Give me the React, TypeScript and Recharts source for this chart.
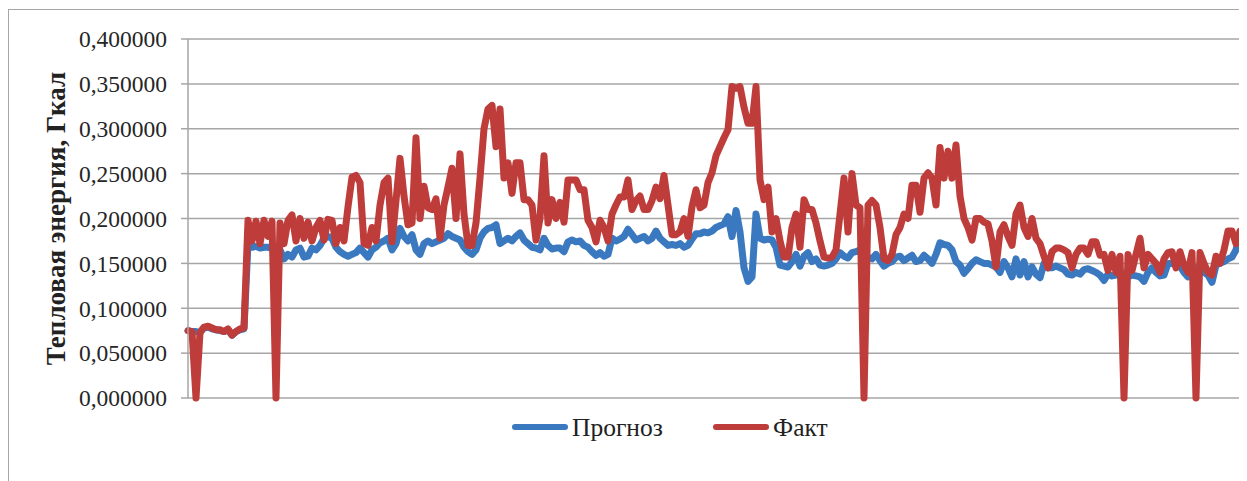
import { CartesianGrid, Legend, Line, LineChart, XAxis, YAxis } from "recharts";

// Прогноз (blue), one value every ~4px of the plot
const forecast = [
  0.075, 0.074, 0.074, 0.073, 0.078, 0.079, 0.077, 0.076, 0.075, 0.074,
  0.076, 0.07, 0.074, 0.076, 0.077, 0.172, 0.168, 0.169, 0.167, 0.168,
  0.168, 0.167, 0.168, 0.165, 0.155, 0.16, 0.157, 0.165, 0.167, 0.157,
  0.158, 0.167, 0.165, 0.17, 0.178, 0.18, 0.178, 0.168, 0.163, 0.16,
  0.158, 0.16, 0.162, 0.167, 0.162, 0.157, 0.165, 0.168, 0.173, 0.175,
  0.178, 0.165, 0.172, 0.189, 0.18, 0.175, 0.182, 0.165, 0.16, 0.172,
  0.175, 0.172, 0.174, 0.176, 0.178, 0.183, 0.18, 0.178, 0.176, 0.168,
  0.163, 0.16, 0.165, 0.178, 0.185, 0.189, 0.19, 0.193, 0.172, 0.175,
  0.178, 0.175, 0.18, 0.184, 0.176, 0.172, 0.168, 0.167, 0.165, 0.178,
  0.17, 0.166, 0.167, 0.167, 0.163, 0.174, 0.176, 0.174, 0.175, 0.17,
  0.168, 0.163, 0.159, 0.162, 0.158, 0.16, 0.178, 0.175, 0.177, 0.18,
  0.188, 0.182, 0.176, 0.178, 0.18, 0.175, 0.178, 0.186, 0.178, 0.174,
  0.17, 0.171, 0.17, 0.172, 0.168, 0.17, 0.177, 0.183, 0.183, 0.185,
  0.184, 0.186, 0.19, 0.192, 0.194, 0.202, 0.18, 0.209, 0.185, 0.145,
  0.13, 0.135, 0.205, 0.178, 0.176, 0.177, 0.176, 0.168, 0.148, 0.147,
  0.146, 0.152, 0.16, 0.147, 0.158, 0.162, 0.152, 0.155, 0.148, 0.147,
  0.148, 0.15, 0.155, 0.162, 0.158, 0.156, 0.162, 0.163, 0.165, 0.16,
  0.157, 0.155, 0.16, 0.153, 0.147, 0.15, 0.152, 0.157, 0.158, 0.153,
  0.156, 0.159, 0.152, 0.153, 0.159, 0.155, 0.15, 0.16, 0.173, 0.171,
  0.17, 0.165, 0.152, 0.148, 0.139, 0.144, 0.15, 0.154, 0.152, 0.15,
  0.15, 0.148, 0.146, 0.14, 0.152, 0.145, 0.135, 0.155, 0.137, 0.152,
  0.135, 0.146, 0.138, 0.134, 0.15, 0.145, 0.145, 0.147, 0.145, 0.143,
  0.138, 0.137, 0.14, 0.138, 0.143, 0.144, 0.142, 0.14, 0.137, 0.131,
  0.138, 0.136, 0.137, 0.14, 0.138, 0.135, 0.137, 0.136, 0.135, 0.13,
  0.14, 0.145, 0.14, 0.136, 0.137, 0.15, 0.15, 0.148, 0.147, 0.14,
  0.135, 0.145, 0.145, 0.145, 0.14, 0.137, 0.129, 0.148, 0.15, 0.152,
  0.155, 0.157, 0.165, 0.183, 0.185
];

// Факт (red)
const fact = [
  0.075, 0.074, 0, 0.073, 0.079, 0.08, 0.078, 0.076, 0.076, 0.074,
  0.077, 0.07, 0.074, 0.077, 0.078, 0.198, 0.175, 0.197, 0.172, 0.198,
  0.18, 0.197, 0, 0.195, 0.172, 0.198, 0.204, 0.175, 0.2, 0.178,
  0.196, 0.175, 0.19, 0.198, 0.176, 0.199, 0.198, 0.172, 0.19, 0.175,
  0.213, 0.246, 0.248, 0.24, 0.172, 0.17, 0.19, 0.175, 0.215, 0.24,
  0.245, 0.174, 0.22, 0.267, 0.225, 0.193, 0.195, 0.29, 0.2, 0.236,
  0.212, 0.21, 0.222, 0.178, 0.215, 0.235, 0.256, 0.2, 0.272, 0.205,
  0.17, 0.17, 0.195, 0.245, 0.3, 0.322, 0.326, 0.28, 0.322, 0.245,
  0.262, 0.228, 0.262, 0.262, 0.221, 0.221, 0.215, 0.176, 0.2, 0.27,
  0.195, 0.221, 0.2, 0.218, 0.196, 0.243, 0.243, 0.243, 0.232, 0.232,
  0.198, 0.19, 0.174, 0.198, 0.19, 0.175, 0.205, 0.215, 0.224, 0.224,
  0.243, 0.21, 0.22, 0.225, 0.21, 0.21, 0.22, 0.235, 0.222, 0.248,
  0.215, 0.182, 0.182, 0.185, 0.2, 0.18, 0.213, 0.232, 0.212, 0.215,
  0.24, 0.251, 0.27, 0.28, 0.29, 0.299, 0.347, 0.345, 0.347, 0.324,
  0.306, 0.306, 0.347, 0.243, 0.221, 0.235, 0.185, 0.2, 0.175, 0.157,
  0.157, 0.19, 0.205, 0.168, 0.221, 0.21, 0.21, 0.195, 0.175, 0.157,
  0.156, 0.157, 0.165, 0.205, 0.245, 0.185, 0.25, 0.215, 0.212, 0,
  0.215, 0.22, 0.215, 0.19, 0.155, 0.153, 0.16, 0.182, 0.19, 0.205,
  0.2, 0.237, 0.237, 0.207, 0.245, 0.251, 0.245, 0.215, 0.279, 0.245,
  0.275, 0.245, 0.282, 0.225, 0.2, 0.19, 0.176, 0.2, 0.2, 0.196,
  0.194, 0.175, 0.146, 0.185, 0.193, 0.18, 0.17, 0.205, 0.215, 0.19,
  0.18, 0.2, 0.178, 0.172, 0.158, 0.145, 0.163, 0.167, 0.167, 0.165,
  0.162, 0.145, 0.16, 0.167, 0.167, 0.16, 0.174, 0.174, 0.159, 0.16,
  0.142, 0.16, 0.14, 0.158, 0, 0.16, 0.142, 0.16, 0.178, 0.145,
  0.16, 0.155, 0.15, 0.14, 0.155, 0.162, 0.163, 0.145, 0.163, 0.148,
  0.14, 0.162, 0, 0.162, 0.15, 0.14, 0.137, 0.158, 0.15, 0.165,
  0.186, 0.186, 0.172, 0.186, 0.186
];

const yTicks = [0, 0.05, 0.1, 0.15, 0.2, 0.25, 0.3, 0.35, 0.4];
const seriesNames = ["Прогноз", "Факт"];
const seriesColors = ["#3a79bf", "#be3d3a"];
const axisTitle = "Тепловая энергия, Гкал";

const data = fact.map((value, i) => ({ t: i, forecast: forecast[i], fact: value }));

const serif = "'Liberation Serif', 'Times New Roman', serif";
const gray = "#a6a6a6";

const formatTick = (v: number) => v.toFixed(6).replace(".", ",");

function renderTitle(props: any) {
  const vb = props.viewBox || { x: 0, y: 29, width: 179, height: 359 };
  const x = vb.x + 56;
  const y = vb.y + vb.height / 2;
  return (
    <text
      x={x}
      y={y}
      transform={`rotate(-90, ${x}, ${y})`}
      textAnchor="middle"
      fontFamily={serif}
      fontSize={27}
      fontWeight="bold"
      fill="#222"
    >
      {axisTitle}
    </text>
  );
}

function renderLegend() {
  const items = [
    { swatch: 503, text: 563 },
    { swatch: 704, text: 764 }
  ];
  return (
    <div style={{ position: "relative", height: 40, fontFamily: serif, fontSize: 25.5, color: "#222" }}>
      {items.map((it, i) => (
        <div key={seriesNames[i]}>
          <div
            style={{
              position: "absolute",
              left: it.swatch,
              top: 26,
              width: 56,
              height: 6,
              borderRadius: 3,
              background: seriesColors[i]
            }}
          />
          <div style={{ position: "absolute", left: it.text, top: 17, lineHeight: 1, whiteSpace: "nowrap" }}>
            {seriesNames[i]}
          </div>
        </div>
      ))}
    </div>
  );
}

export default function App() {
  return (
    <div style={{ position: "relative", width: 1239, height: 473 }}>
      <style>{"body{overflow:hidden}"}</style>
      <div
        style={{
          position: "absolute",
          left: -10,
          top: -27,
          fontFamily: serif,
          fontSize: 24,
          lineHeight: 1,
          whiteSpace: "nowrap",
          color: "#222"
        }}
      >
        ляет 331 038 руб./год.
      </div>
      <div style={{ position: "absolute", left: 0, top: 1, width: 1239, height: 472, overflow: "hidden" }}>
        <div style={{ width: 1300, height: 480, border: `1px solid ${gray}`, boxSizing: "border-box", background: "#fff" }}>
          <LineChart width={1245} height={470} data={data} margin={{ top: 29, right: 4, left: 0, bottom: 42 }}>
            <CartesianGrid vertical={false} stroke={gray} strokeWidth={1.5} />
            <XAxis dataKey="t" hide padding={{ left: 0, right: 6 }} />
            <YAxis
              width={179}
              domain={[0, 0.4]}
              ticks={yTicks}
              tickFormatter={formatTick}
              tick={{ fontFamily: serif, fontSize: 23.5, fill: "#262626" }}
              tickLine={{ stroke: gray, strokeWidth: 1.5 }}
              tickSize={7}
              tickMargin={14}
              axisLine={{ stroke: gray, strokeWidth: 1.5 }}
              interval={0}
              label={renderTitle}
            />
            <Legend
              verticalAlign="bottom"
              height={40}
              content={renderLegend}
              wrapperStyle={{ left: 0, top: 388, width: 1245, height: 40 }}
            />
            <Line
              dataKey="forecast"
              name={seriesNames[0]}
              stroke={seriesColors[0]}
              strokeWidth={7}
              dot={false}
              strokeLinejoin="round"
              strokeLinecap="round"
              isAnimationActive={false}
            />
            <Line
              dataKey="fact"
              name={seriesNames[1]}
              stroke={seriesColors[1]}
              strokeWidth={7}
              dot={false}
              strokeLinejoin="round"
              strokeLinecap="round"
              isAnimationActive={false}
            />
          </LineChart>
        </div>
      </div>
    </div>
  );
}
